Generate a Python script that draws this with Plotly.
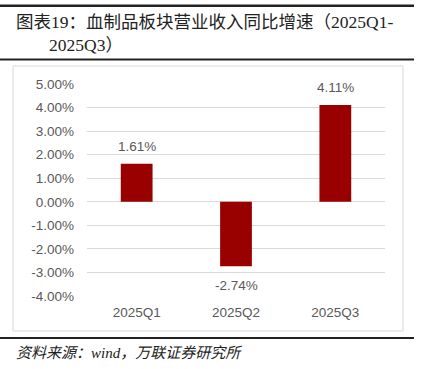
import plotly.graph_objects as go

categories = ["2025Q1", "2025Q2", "2025Q3"]
growth_pct = [1.61, -2.74, 4.11]
tick_values = [5, 4, 3, 2, 1, 0, -1, -2, -3, -4]
tick_labels = ["5.00%", "4.00%", "3.00%", "2.00%", "1.00%", "0.00%", "-1.00%", "-2.00%", "-3.00%", "-4.00%"]
value_labels = ["1.61%", "-2.74%", "4.11%"]

W, H = 425, 369
L, R, T, B = 87, 40, 84, 73
pw, ph = W - L - R, H - T - B

def px_x(x):
    return (x - L) / pw

def px_y(y):
    return (H - B - y) / ph

fig = go.Figure()
fig.add_trace(go.Bar(
    x=categories, y=growth_pct, width=0.32,
    marker=dict(color="#990000", line=dict(width=0)),
    hoverinfo="skip",
))

gray = "#595959"
label_font = dict(family="Arial, Liberation Sans, sans-serif", size=13.5, color=gray)
value_annots = [
    dict(x=c, y=v, xref="x", yref="y", text=t, showarrow=False,
         yanchor="middle", yshift=(17 if v >= 0 else -19), font=label_font)
    for c, v, t in zip(categories, growth_pct, value_labels)
]

fig.update_layout(
    width=W, height=H,
    margin=dict(l=L, r=R, t=T, b=B),
    paper_bgcolor="white", plot_bgcolor="white",
    showlegend=False,
    xaxis=dict(showgrid=False, showline=False, ticks="", ticklabelstandoff=6,
               tickfont=label_font),
    yaxis=dict(range=[-4, 5], tickvals=tick_values, ticktext=tick_labels,
               showgrid=True, gridcolor="#d9d9d9", gridwidth=1,
               zeroline=True, zerolinecolor="#d9d9d9", zerolinewidth=1,
               showline=False, ticks="", ticklabelstandoff=12,
               tickfont=label_font),
    shapes=[
        dict(type="rect", xref="paper", yref="paper",
             x0=px_x(13), x1=px_x(403), y0=px_y(331), y1=px_y(66),
             line=dict(color="#d9d9d9", width=1), layer="below"),
        dict(type="rect", xref="paper", yref="paper",
             x0=px_x(0), x1=px_x(414), y0=px_y(6.5), y1=px_y(4.5),
             fillcolor="#222222", line=dict(width=0)),
        dict(type="line", xref="paper", yref="paper",
             x0=px_x(0), x1=px_x(414), y0=px_y(59.5), y1=px_y(59.5),
             line=dict(color="#222222", width=2)),
        dict(type="line", xref="paper", yref="paper",
             x0=px_x(0), x1=px_x(414), y0=px_y(338), y1=px_y(338),
             line=dict(color="#222222", width=2)),
    ],
    annotations=value_annots + [
        dict(xref="paper", yref="paper", x=px_x(0), y=px_y(5.5), xanchor="left", yanchor="middle",
             showarrow=False, text=" ", width=414, height=2, bgcolor="#222222",
             borderpad=0, borderwidth=0, font=dict(size=1)),
        dict(xref="paper", yref="paper", x=px_x(14), y=px_y(22), xanchor="left", yanchor="middle",
             showarrow=False, text="图表19：血制品板块营业收入同比增速（2025Q1-",
             font=dict(family="Liberation Serif, Noto Sans CJK SC, serif", size=17.5, color="#222222")),
        dict(xref="paper", yref="paper", x=px_x(47), y=px_y(45), xanchor="left", yanchor="middle",
             showarrow=False, text="2025Q3）",
             font=dict(family="Liberation Serif, Noto Sans CJK SC, serif", size=17.5, color="#222222")),
        dict(xref="paper", yref="paper", x=px_x(14), y=px_y(353), xanchor="left", yanchor="middle",
             showarrow=False, text="<i>资料来源：wind，万联证券研究所</i>",
             font=dict(family="Liberation Serif, Noto Sans CJK SC, serif", size=15, color="#222222")),
    ],
)

fig.write_html("out.html", config={"displayModeBar": False},
               post_script="document.body.style.margin='0';document.body.style.overflow='hidden';")
